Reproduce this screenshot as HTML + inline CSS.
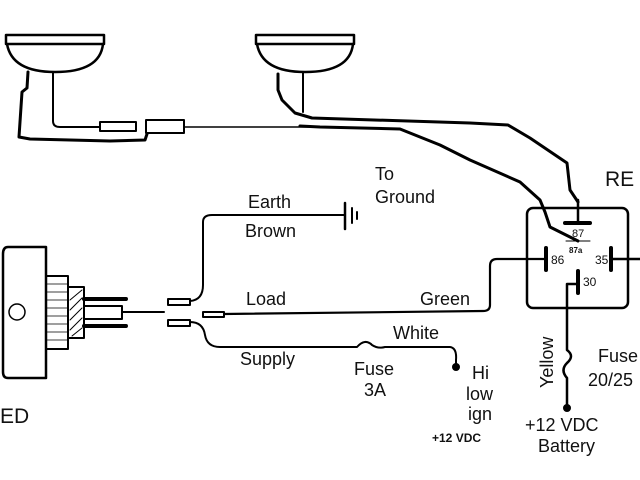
<!DOCTYPE html>
<html><head><style>
body{margin:0;background:#fff;}
svg{display:block;}
text{font-family:"Liberation Sans",sans-serif;fill:#111;}
</style></head><body>
<svg width="640" height="480" viewBox="0 0 640 480" xmlns="http://www.w3.org/2000/svg">
<g fill="none" stroke="#000" stroke-linecap="round" stroke-linejoin="round">
<!-- lamps -->
<rect x="6" y="35" width="98" height="9" stroke-width="2.5" fill="#fff"/>
<path d="M7 44 Q12 72 55 72 Q100 72 103 44" stroke-width="2.5"/>
<rect x="256" y="35" width="98" height="9" stroke-width="2.5" fill="#fff"/>
<path d="M257 44 Q262 72 305 72 Q350 72 353 44" stroke-width="2.5"/>
<!-- left lamp wires -->
<path d="M28 72 L27 88 L22 92 L19 137 L30 139 L110 141 L145 140 L147 134" stroke-width="3"/>
<path d="M53 72 L53 121 Q53 127 60 127 L100 127" stroke-width="2"/>
<rect x="100" y="122" width="36" height="9" stroke-width="2"/>
<rect x="146" y="120" width="38" height="13" stroke-width="2"/>
<line x1="184" y1="127" x2="318" y2="127" stroke-width="1.5"/>
<!-- right lamp wires -->
<path d="M278 74 L278 90 L282 100 L295 113 L312 118 L470 123 L508 125 L530 138 L567 163 L570 190 L578 202" stroke-width="3"/>
<path d="M303 72 L303 112" stroke-width="2"/>
<path d="M300 126 L320 127 L400 129 L440 145 L470 160 L520 182 L540 200 L545 212 L550 227 L578 241" stroke-width="3"/>
<!-- relay -->
<rect x="527" y="208" width="101" height="100" rx="6" stroke-width="2.5"/>
<line x1="578" y1="200" x2="578" y2="223" stroke-width="2.5"/>
<line x1="565" y1="223" x2="590" y2="223" stroke-width="4"/>
<line x1="566" y1="241" x2="590" y2="241" stroke-width="1"/>
<line x1="546" y1="248" x2="546" y2="270" stroke-width="4"/>
<line x1="611" y1="248" x2="611" y2="270" stroke-width="4"/>
<line x1="611" y1="259" x2="640" y2="259" stroke-width="2.5"/>
<line x1="578" y1="271" x2="578" y2="293" stroke-width="4"/>
<path d="M578 284 L567 284 L567 350 Q575 356 567 363 Q560 370 567 378 L567 408" stroke-width="2.5"/>
<circle cx="567" cy="408" r="3.5" fill="#000"/>
<!-- green -->
<path d="M546 259 L497 259 Q490 259 490 266 L490 305 Q490 311 483 311 L224 314" stroke-width="2.2"/>
<!-- brown/earth -->
<path d="M190 301 Q203 300 203 285 L203 222 Q203 215 212 215 L345 215" stroke-width="2"/>
<line x1="345" y1="203" x2="345" y2="229" stroke-width="2.5"/>
<line x1="352" y1="208" x2="352" y2="223" stroke-width="2"/>
<line x1="357" y1="212" x2="357" y2="219" stroke-width="2"/>
<!-- supply -->
<path d="M190 322 Q203 322 205 335 Q207 347 220 347 L357 347 Q365 338 372 345 Q378 349 385 347 L450 347 Q457 348 456 360 L456 367" stroke-width="2"/>
<circle cx="456" cy="367" r="3.5" fill="#000"/>
<!-- connectors -->
<rect x="168" y="299" width="22" height="6" stroke-width="2"/>
<rect x="168" y="320" width="22" height="6" stroke-width="2"/>
<rect x="203" y="312" width="21" height="5" stroke-width="2"/>
<!-- switch -->
<path d="M46 247 L8 247 Q3 247 3 254 L3 372 Q3 378 8 378 L46 378 Z" stroke-width="2.5"/>
<circle cx="17" cy="312" r="8" stroke-width="1.5"/>
<rect x="46" y="276" width="22" height="73" stroke-width="2"/>
<g stroke-width="0.8"><line x1="47" y1="284" x2="67" y2="284"/><line x1="47" y1="292" x2="67" y2="292"/><line x1="47" y1="300" x2="67" y2="300"/><line x1="47" y1="308" x2="67" y2="308"/><line x1="47" y1="316" x2="67" y2="316"/><line x1="47" y1="324" x2="67" y2="324"/><line x1="47" y1="332" x2="67" y2="332"/><line x1="47" y1="340" x2="67" y2="340"/></g>
<rect x="68" y="287" width="16" height="51" stroke-width="2"/>
<g stroke-width="1"><line x1="70" y1="300" x2="82" y2="290"/><line x1="70" y1="310" x2="82" y2="298"/><line x1="70" y1="320" x2="82" y2="308"/><line x1="70" y1="330" x2="82" y2="318"/><line x1="72" y1="336" x2="82" y2="328"/></g>
<line x1="84" y1="299" x2="126" y2="299" stroke-width="4"/>
<line x1="84" y1="326" x2="126" y2="326" stroke-width="4"/>
<rect x="84" y="306" width="38" height="13" stroke-width="2"/>
<line x1="122" y1="312" x2="164" y2="312" stroke-width="2"/>
</g>
<g font-size="18">
<text x="248" y="208">Earth</text>
<text x="245" y="237">Brown</text>
<text x="375" y="180">To</text>
<text x="375" y="203">Ground</text>
<text x="605" y="186" font-size="21">RE</text>
<text x="246" y="305">Load</text>
<text x="420" y="305">Green</text>
<text x="393" y="339">White</text>
<text x="240" y="365">Supply</text>
<text x="354" y="375">Fuse</text>
<text x="364" y="396">3A</text>
<text x="472" y="379">Hi</text>
<text x="466" y="400">low</text>
<text x="468" y="420">ign</text>
<text x="598" y="362">Fuse</text>
<text x="588" y="386">20/25</text>
<text x="525" y="431">+12 VDC</text>
<text x="538" y="452">Battery</text>
<text x="0" y="423" font-size="21">ED</text>
<text x="0" y="0" transform="translate(553,388) rotate(-90)">Yellow</text>
</g>
<text x="432" y="442" font-size="12" font-weight="bold">+12 VDC</text>
<text x="572" y="237" font-size="11">87</text>
<text x="569" y="253" font-size="8" font-weight="bold">87a</text>
<text x="551" y="264" font-size="12">86</text>
<text x="595" y="264" font-size="12">35</text>
<text x="583" y="286" font-size="12">30</text>
</svg>
</body></html>
